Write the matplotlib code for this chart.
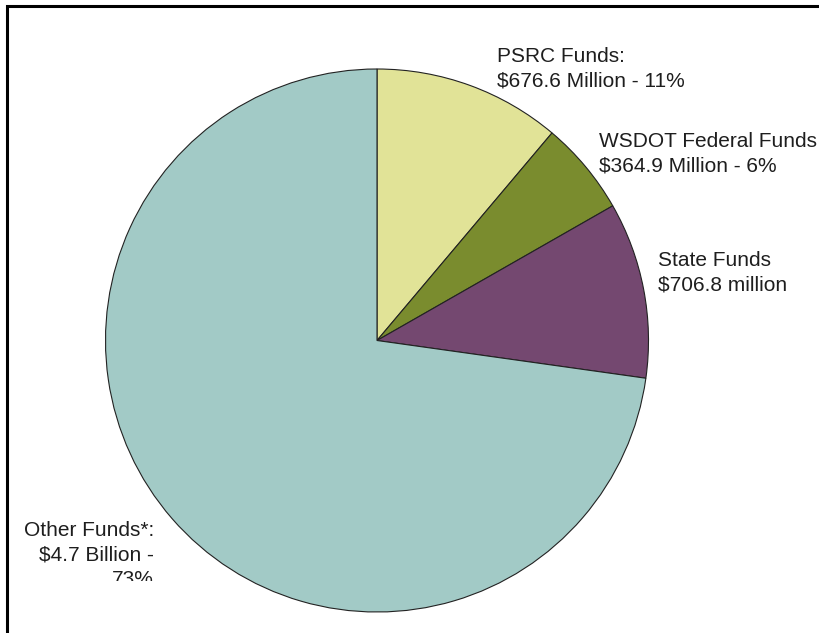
import matplotlib.pyplot as plt
from matplotlib.patches import Rectangle
from matplotlib.transforms import Bbox

# funding sources (clockwise from 12 o'clock)
sources = ['PSRC Funds', 'WSDOT Federal Funds', 'State Funds', 'Other Funds']
shares = [11.15, 5.59, 10.48, 72.78]   # wedge sizes, percent
labels = ['PSRC Funds:\n$676.6 Million - 11%',
          'WSDOT Federal Funds\n$364.9 Million - 6%',
          'State Funds\n$706.8 million',
          'Other Funds*:\n$4.7 Billion -\n73%']
colors = ['#e1e397', '#7a8c2e', '#744870', '#a2cac6']

W, H = 820, 633
fig = plt.figure(figsize=(W / 100, H / 100), dpi=100)
ax = fig.add_axes([0, 0, 1, 1])
ax.set_xlim(0, W)
ax.set_ylim(0, H)
ax.set_aspect('equal')
ax.axis('off')

ax.pie(shares, colors=colors, startangle=90, counterclock=False,
       center=(377, H - 340.5), radius=271.5,
       wedgeprops=dict(edgecolor='#222222', linewidth=0.8))
ax.set_xlim(0, W)
ax.set_ylim(0, H)

# frame of the original slide (runs off right and bottom)
fig.patches.append(Rectangle((7, -20), W + 40, H - 6 + 20, transform=None,
                             fill=False, edgecolor='black', linewidth=2.2))

font = dict(family=['Liberation Sans', 'DejaVu Sans'], fontsize=15,
            color='#1e1e1e', linespacing=1.38)
ax.text(497, H - 47, labels[0], ha='left', va='top', **font)
ax.text(599, H - 132, labels[1], ha='left', va='top', **font)
ax.text(658, H - 251, labels[2], ha='left', va='top', **font)
t = ax.text(154, H - 521, labels[3], ha='right', va='top', multialignment='right', **font)
t.set_clip_box(Bbox([[0, H - 581], [W, H]]))
t.set_clip_on(True)

fig.savefig('out.png', dpi=100)
